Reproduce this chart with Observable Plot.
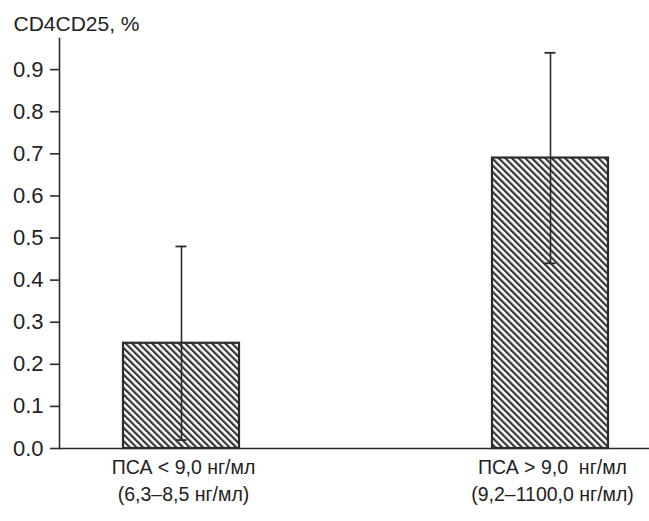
<!DOCTYPE html>
<html><head><meta charset="utf-8">
<script src="https://cdn.jsdelivr.net/npm/d3@7"></script>
<script src="https://cdn.jsdelivr.net/npm/@observablehq/plot@0.6"></script>
<style>
body{margin:0;background:#fff}
</style>
</head><body><div id="chart"></div>
<script>
const groups = ["ПСА < 9,0 нг/мл", "ПСА > 9,0\u00a0 нг/мл"];
const ranges = ["(6,3–8,5 нг/мл)", "(9,2–1100,0 нг/мл)"];
const means = [0.25, 0.69];
const lows = [0.02, 0.44];
const highs = [0.48, 0.94];
const yTicks = [0, 0.1, 0.2, 0.3, 0.4, 0.5, 0.6, 0.7, 0.8, 0.9];
const yTitle = "CD4CD25, %";

const data = groups.map((g, i) => ({group: g, range: ranges[i], mean: means[i], lo: lows[i], hi: highs[i]}));
const ink = "#2b2b2b";

const chart = Plot.plot({
  width: 649, height: 521,
  marginLeft: 59, marginRight: 0, marginTop: 38, marginBottom: 73,
  style: {fontFamily: "'Liberation Sans', Arial, sans-serif", color: "#222", background: "#fff"},
  x: {domain: groups, range: [122, 608], paddingInner: 0.686, paddingOuter: 0, align: 0.5, axis: null},
  y: {domain: [0, 0.974], axis: null},
  marks: [
    Plot.barY(data, {x: "group", y: "mean", fill: "url(#hatch)", stroke: ink, strokeWidth: 2.2}),
    Plot.ruleX(data, {x: "group", y1: "lo", y2: "hi", stroke: ink, strokeWidth: 1.6}),
    Plot.tickY(data, {x: "group", y: "hi", stroke: ink, strokeWidth: 1.8, insetLeft: 52.5, insetRight: 52.5}),
    Plot.tickY(data, {x: "group", y: "lo", stroke: ink, strokeWidth: 1.8, insetLeft: 52.5, insetRight: 52.5}),
    Plot.ruleY([0], {stroke: ink, strokeWidth: 1.6}),
    Plot.frame({anchor: "left", stroke: ink, strokeWidth: 1.6}),
    Plot.axisY({ticks: yTicks, tickFormat: d3.format(".1f"), tickSize: 9, tickPadding: 7, fontSize: 22, label: null, stroke: ink, strokeWidth: 1.6}),
    Plot.text(data, {x: "group", text: "group", frameAnchor: "bottom", dy: 19, dx: 2, lineAnchor: "middle", fontSize: 19.5, fill: "#222"}),
    Plot.text(data, {x: "group", text: "range", frameAnchor: "bottom", dy: 46, dx: 2, lineAnchor: "middle", fontSize: 19.5, fill: "#222"}),
    Plot.text([yTitle], {frameAnchor: "top-left", dx: -46, dy: -14.5, textAnchor: "start", lineAnchor: "middle", fontSize: 21, fill: "#222"})
  ]
});

const svgNS = "http://www.w3.org/2000/svg";
const defs = document.createElementNS(svgNS, "defs");
const pat = document.createElementNS(svgNS, "pattern");
pat.setAttribute("id", "hatch");
pat.setAttribute("patternUnits", "userSpaceOnUse");
pat.setAttribute("width", "4.7");
pat.setAttribute("height", "10");
pat.setAttribute("patternTransform", "rotate(-45)");
const bg = document.createElementNS(svgNS, "rect");
bg.setAttribute("width", "4.7"); bg.setAttribute("height", "10"); bg.setAttribute("fill", "#fff");
const ln = document.createElementNS(svgNS, "rect");
ln.setAttribute("width", "2.2"); ln.setAttribute("height", "10"); ln.setAttribute("fill", "#333");
pat.appendChild(bg); pat.appendChild(ln); defs.appendChild(pat);
chart.insertBefore(defs, chart.firstChild);
document.getElementById("chart").appendChild(chart);
</script>
</body></html>
